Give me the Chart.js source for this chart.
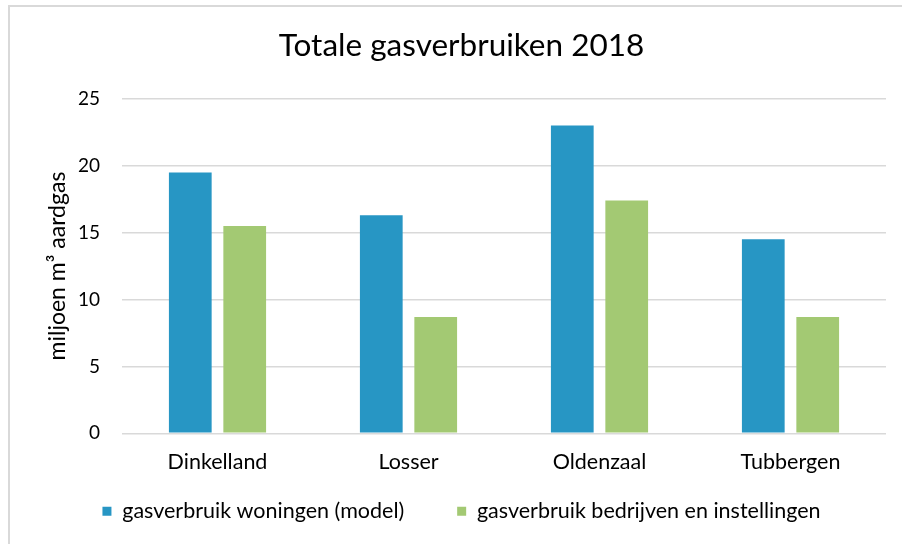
<!DOCTYPE html>
<html>
<head>
<meta charset="utf-8">
<script src="https://cdn.jsdelivr.net/npm/chart.js@4.4.1/dist/chart.umd.min.js"></script>
<style>
  html, body { margin: 0; padding: 0; background: #ffffff; }
  #wrap { width: 902px; height: 544px; position: relative; }
</style>
</head>
<body>
<div id="wrap"><canvas id="c" width="902" height="544"></canvas></div>
<script>
const categories = ["Dinkelland", "Losser", "Oldenzaal", "Tubbergen"];
const seriesNames = ["gasverbruik woningen (model)", "gasverbruik bedrijven en instellingen"];
const woningen = [19.5, 16.3, 23.0, 14.5];
const bedrijven = [15.5, 8.7, 17.4, 8.7];
const yTicks = [0, 5, 10, 15, 20, 25];
const chartTitle = "Totale gasverbruiken 2018";
const yTitle = "miljoen m³ aardgas";

const FONT = "Lato, 'Open Sans', sans-serif";
const LEFT_PAD = 37;
const LEG_PAD = 16.6;

const frame = {
  id: 'frame',
  beforeDraw(chart) {
    const ctx = chart.ctx;
    ctx.save();
    ctx.fillStyle = '#ffffff';
    ctx.fillRect(0, 0, chart.width, chart.height);
    ctx.strokeStyle = '#d9d9d9';
    ctx.lineWidth = 2;
    ctx.beginPath();
    ctx.moveTo(9, 544);
    ctx.lineTo(9, 6);
    ctx.lineTo(902, 6);
    ctx.stroke();
    ctx.restore();
  }
};

new Chart(document.getElementById('c'), {
  type: 'bar',
  data: {
    labels: categories,
    datasets: [
      { label: seriesNames[0], data: woningen, backgroundColor: '#2796c4', borderWidth: 0 },
      { label: seriesNames[1], data: bedrijven, backgroundColor: '#a3c973', borderWidth: 0 }
    ]
  },
  options: {
    responsive: false,
    animation: false,
    devicePixelRatio: 1,
    layout: { padding: { left: LEFT_PAD, right: 16, top: 0, bottom: 12 } },
    datasets: { bar: { categoryPercentage: 0.57, barPercentage: 0.785 } },
    plugins: {
      title: {
        display: true,
        text: chartTitle,
        color: '#000000',
        font: { family: FONT, size: 31.5, weight: 'normal' },
        padding: { top: 27, bottom: 34 }
      },
      legend: {
        display: true,
        position: 'bottom',
        labels: {
          color: '#000000',
          font: { family: FONT, size: 21.5 },
          boxWidth: 9,
          boxHeight: 9,
          padding: LEG_PAD,
          generateLabels(chart) {
            const items = Chart.defaults.plugins.legend.labels.generateLabels(chart);
            // invisible spacer between the two entries
            items.splice(1, 0, {
              text: '', fillStyle: 'rgba(0,0,0,0)', strokeStyle: 'rgba(0,0,0,0)',
              lineWidth: 0, hidden: false, datasetIndex: -1
            });
            return items;
          }
        }
      },
      tooltip: { enabled: false }
    },
    scales: {
      x: {
        grid: { display: false, drawTicks: false },
        border: { display: false },
        ticks: { color: '#000000', font: { family: FONT, size: 21.5 }, padding: 16 },
        afterFit(scale) { scale.height = 50.6; }
      },
      y: {
        min: 0,
        max: 25,
        afterBuildTicks(scale) { scale.ticks = yTicks.map(v => ({ value: v })); },
        grid: { color: '#d9d9d9', lineWidth: 1.5, drawTicks: false },
        border: { display: false },
        ticks: { color: '#000000', font: { family: FONT, size: 19 }, padding: 22 },
        title: {
          display: true,
          text: yTitle,
          color: '#000000',
          font: { family: FONT, size: 23 },
          padding: { top: 7 }
        },
        afterFit(scale) { scale.width = 122 - LEFT_PAD; }
      }
    }
  },
  plugins: [frame]
});
</script>
</body>
</html>
